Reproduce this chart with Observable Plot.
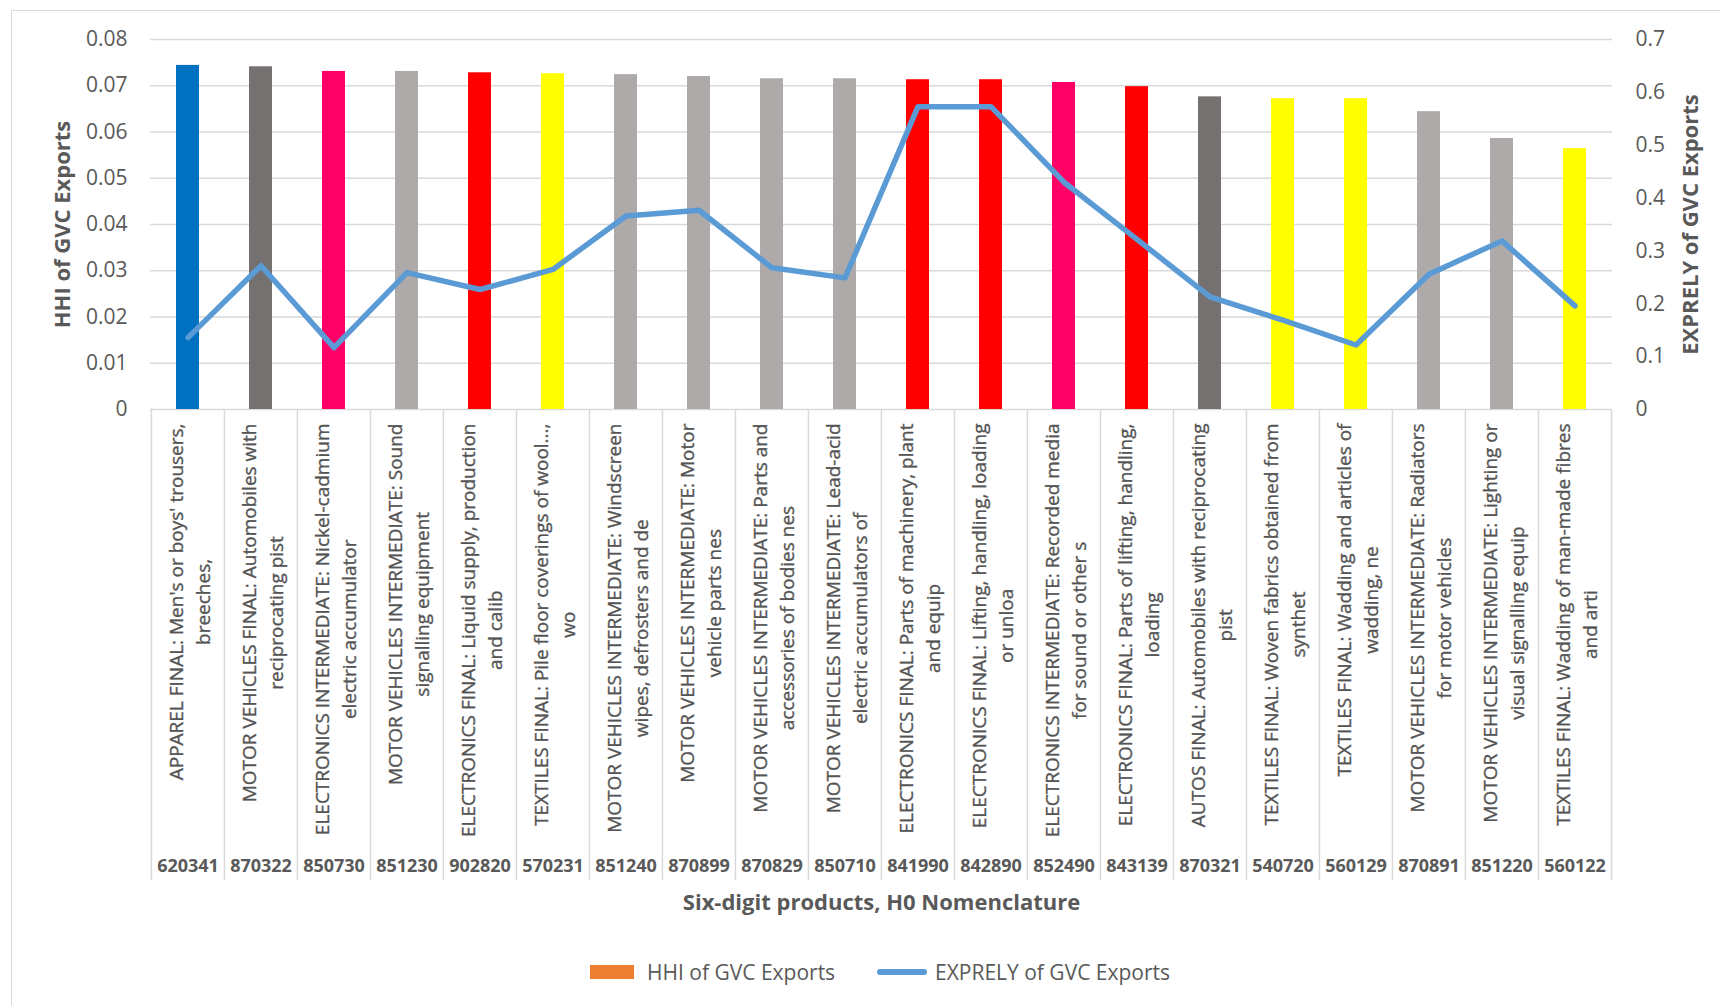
<!DOCTYPE html>
<html>
<head>
<meta charset="utf-8">
<script src="https://cdn.jsdelivr.net/npm/d3@7"></script>
<script src="https://cdn.jsdelivr.net/npm/@observablehq/plot@0.6"></script>
<style>
  html, body { margin: 0; padding: 0; background: #fff; width: 1720px; height: 1006px; overflow: hidden; }
  #frame { position: absolute; left: 11px; top: 10px; width: 1730px; height: 1010px; border: 1.5px solid #d9d9d9; box-sizing: border-box; }
  #chart { position: absolute; left: 0; top: 0; }
  .lg { position: absolute; font-family: "Open Sans", sans-serif; font-size: 21px; color: #595959; transform: translateY(-50%); white-space: nowrap; }
</style>
</head>
<body>
<div id="frame"></div>
<div id="chart"></div>
<div class="lg" style="left:590px;top:972px;width:44px;height:14px;background:#ED7D31;"></div>
<div class="lg" style="left:647px;top:972px;">HHI of GVC Exports</div>
<div class="lg" style="left:877px;top:972px;width:50px;height:6px;border-radius:3px;background:#5B9BD5;"></div>
<div class="lg" style="left:935px;top:972px;">EXPRELY of GVC Exports</div>
<script>
const codes = ["620341","870322","850730","851230","902820","570231","851240","870899","870829","850710",
               "841990","842890","852490","843139","870321","540720","560129","870891","851220","560122"];
const labels = [
  "APPAREL FINAL: Men's or boys' trousers,\nbreeches,",
  "MOTOR VEHICLES FINAL: Automobiles with\nreciprocating pist",
  "ELECTRONICS INTERMEDIATE: Nickel-cadmium\nelectric accumulator",
  "MOTOR VEHICLES INTERMEDIATE: Sound\nsignalling equipment",
  "ELECTRONICS FINAL: Liquid supply, production\nand calib",
  "TEXTILES FINAL: Pile floor coverings of wool...,\nwo",
  "MOTOR VEHICLES INTERMEDIATE: Windscreen\nwipes, defrosters and de",
  "MOTOR VEHICLES INTERMEDIATE: Motor\nvehicle parts nes",
  "MOTOR VEHICLES INTERMEDIATE: Parts and\naccessories of bodies nes",
  "MOTOR VEHICLES INTERMEDIATE: Lead-acid\nelectric accumulators of",
  "ELECTRONICS FINAL: Parts of machinery, plant\nand equip",
  "ELECTRONICS FINAL: Lifting, handling, loading\nor unloa",
  "ELECTRONICS INTERMEDIATE: Recorded media\nfor sound or other s",
  "ELECTRONICS FINAL: Parts of lifting, handling,\nloading",
  "AUTOS FINAL: Automobiles with reciprocating\npist",
  "TEXTILES FINAL: Woven fabrics obtained from\nsynthet",
  "TEXTILES FINAL: Wadding and articles of\nwadding, ne",
  "MOTOR VEHICLES INTERMEDIATE: Radiators\nfor motor vehicles",
  "MOTOR VEHICLES INTERMEDIATE: Lighting or\nvisual signalling equip",
  "TEXTILES FINAL: Wadding of man-made fibres\nand arti"
];
const hhi = [0.0744,0.0741,0.0731,0.0731,0.0728,0.0726,0.0724,0.0720,0.0715,0.0715,
             0.0713,0.0713,0.0707,0.0698,0.0676,0.0672,0.0672,0.0644,0.0586,0.0564];
const exprely = [0.136,0.272,0.117,0.259,0.227,0.265,0.366,0.377,0.268,0.249,
                 0.573,0.573,0.430,0.322,0.213,0.169,0.122,0.256,0.319,0.196];
const barColors = ["#0070C0","#767171","#FF0066","#AEAAAA","#FF0000","#FFFF00","#AEAAAA","#AEAAAA","#AEAAAA","#AEAAAA",
                   "#FF0000","#FF0000","#FF0066","#FF0000","#767171","#FFFF00","#FFFF00","#AEAAAA","#AEAAAA","#FFFF00"];
const leftTicks = [0,0.01,0.02,0.03,0.04,0.05,0.06,0.07,0.08];
const leftTickLabels = ["0","0.01","0.02","0.03","0.04","0.05","0.06","0.07","0.08"];
const rightTicks = [0,0.1,0.2,0.3,0.4,0.5,0.6,0.7];
const rightTickLabels = ["0","0.1","0.2","0.3","0.4","0.5","0.6","0.7"];
const leftTitle = "HHI of GVC Exports";
const rightTitle = "EXPRELY of GVC Exports";
const xTitle = "Six-digit products, H0 Nomenclature";

const ratio = 0.08 / 0.7;
const rows = codes.map((c, i) => ({code: c, label: labels[i], hhi: hhi[i], exp: exprely[i], color: barColors[i]}));
const W = 1720, H = 1006, mL = 150, mR = 108, mT = 39, mB = 597;
const step = (W - mL - mR) / codes.length;
const rightScaled = rightTicks.map(v => v * ratio);
const grey = "#595959";
const labelFont = 19;

// measure each label's longest line so the label block is anchored at the top (as in the spreadsheet chart)
const ctx = document.createElement("canvas").getContext("2d");
ctx.font = `${labelFont}px 'Open Sans'`;
const labelOffset = 14; // gap between the axis and the top of the labels
const labelMarks = rows.map(r => {
  const maxW = d3.max(r.label.split("\n"), s => ctx.measureText(s).width);
  return Plot.text([r], {x: "code", text: "label", frameAnchor: "bottom", dy: labelOffset + maxW / 2, rotate: -90,
    textAnchor: "middle", lineAnchor: "middle", lineHeight: 1.4, fontSize: labelFont,
    fill: "#545454", stroke: "#545454", strokeWidth: 0.35});
});

const chart = Plot.plot({
  width: W, height: H,
  marginTop: mT, marginBottom: mB, marginLeft: mL, marginRight: mR,
  style: {fontFamily: "'Open Sans', sans-serif", color: grey, background: "transparent", overflow: "visible"},
  x: {domain: codes, paddingInner: 0.69, paddingOuter: 0.345, axis: null},
  y: {domain: [0, 0.08], axis: null},
  color: {type: "identity"},
  marks: [
    Plot.gridY(leftTicks, {stroke: "#d9d9d9", strokeOpacity: 1, strokeWidth: 1.5}),
    Plot.axisX({tickSize: 471, tickFormat: () => "", dx: -step / 2, stroke: "#d9d9d9", strokeOpacity: 1, strokeWidth: 1.5, label: null}),
    Plot.axisX([codes[codes.length - 1]], {tickSize: 471, tickFormat: () => "", dx: step / 2, stroke: "#d9d9d9", strokeOpacity: 1, strokeWidth: 1.5, label: null}),
    Plot.barY(rows, {x: "code", y: "hhi", fill: "color"}),
    Plot.line(rows, {x: "code", y: d => d.exp * ratio, stroke: "#5B9BD5", strokeWidth: 5.5, strokeLinejoin: "round", strokeLinecap: "round"}),
    Plot.axisY(leftTicks, {anchor: "left", tickSize: 0, tickPadding: 23, fontSize: 21, label: null,
      tickFormat: d => leftTickLabels[leftTicks.indexOf(d)]}),
    Plot.axisY(rightScaled, {anchor: "right", tickSize: 0, tickPadding: 23, fontSize: 21, label: null,
      tickFormat: d => rightTickLabels[rightScaled.indexOf(d)]}),
    ...labelMarks,
    Plot.text(rows, {x: "code", text: "code", frameAnchor: "bottom", dy: 462, fontSize: 18, fontWeight: "bold", fill: grey}),
    Plot.text([xTitle], {frameAnchor: "bottom", dy: 500, fontSize: 22, fontWeight: "bold", fill: grey}),
    Plot.text([leftTitle], {frameAnchor: "left", dx: -88, rotate: -90, textAnchor: "middle", fontSize: 22, fontWeight: "bold", fill: grey}),
    Plot.text([rightTitle], {frameAnchor: "right", dx: 78, rotate: -90, textAnchor: "middle", fontSize: 22, fontWeight: "bold", fill: grey})
  ]
});
document.getElementById("chart").appendChild(chart);
</script>
</body>
</html>
